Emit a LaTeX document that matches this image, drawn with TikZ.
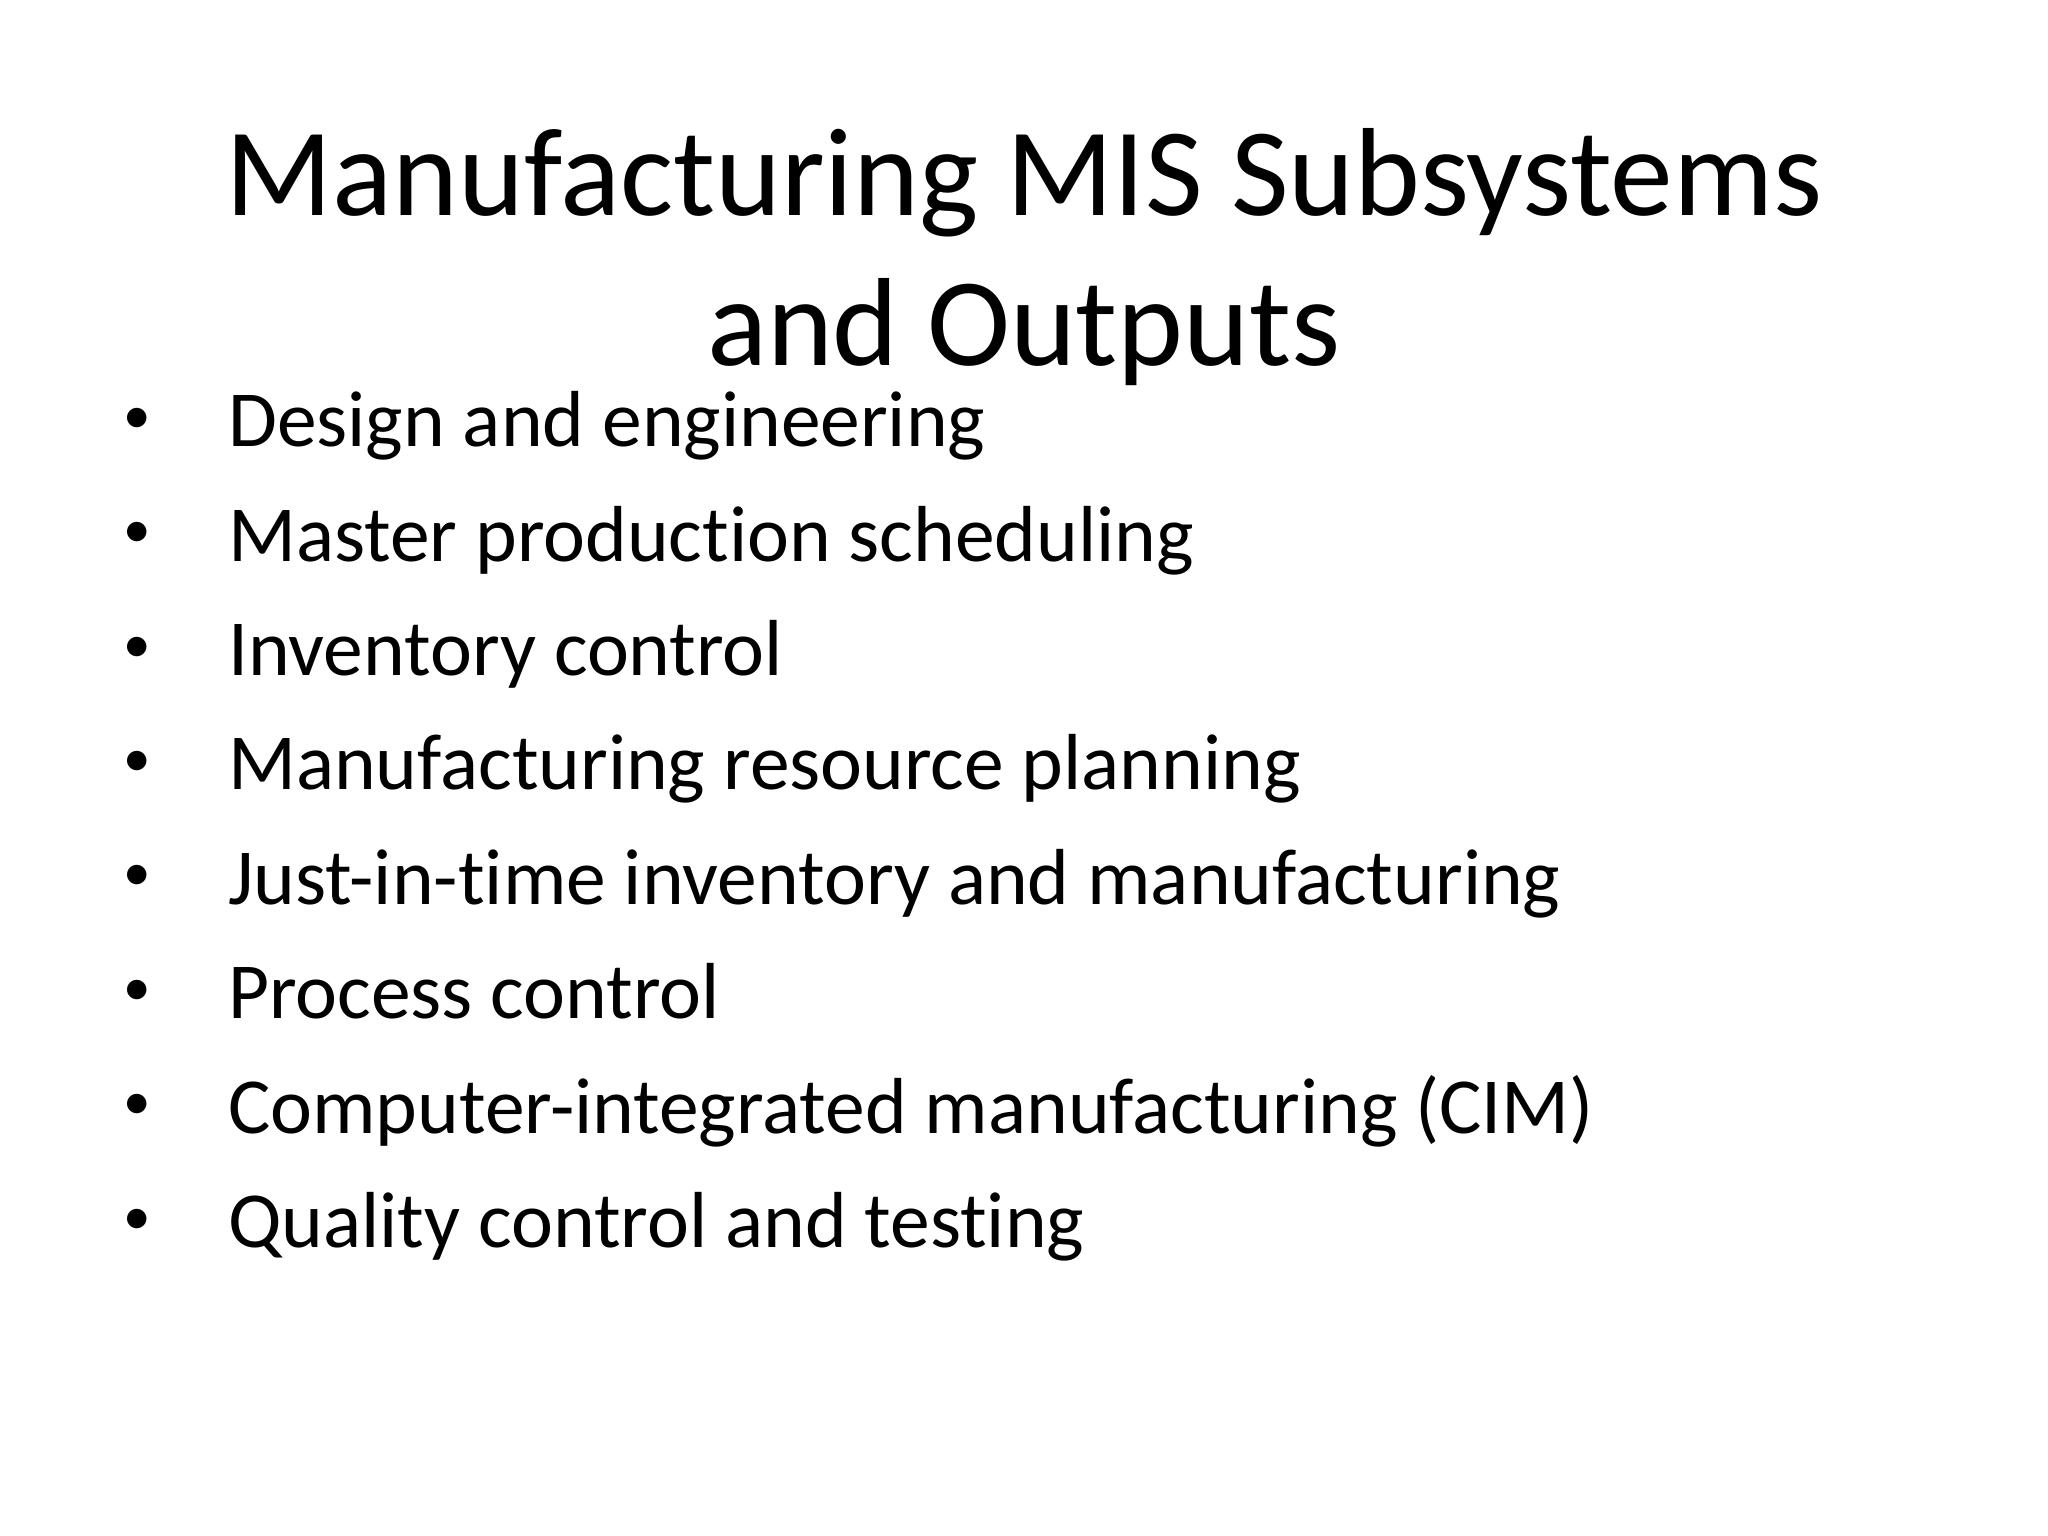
\documentclass[tikz,border=0pt]{standalone}
\usepackage{fontspec}
\setmainfont{Carlito}[Ligatures=NoCommon]
\begin{document}
\begin{tikzpicture}[x=0.01cm,y=-0.01cm,
  ttl/.style={anchor=base,font=\fontsize{27.3pt}{30pt}\selectfont},
  itm/.style={anchor=base west,font=\fontsize{17.3pt}{22pt}\selectfont,inner sep=0pt},
  bul/.style={anchor=center,font=\fontsize{12pt}{14pt}\selectfont,inner sep=0pt}]
\useasboundingbox (0,0) rectangle (1568,1176);
\node[ttl] (t1) at (784,165) {Manufacturing MIS Subsystems};
\node[ttl] (t2) at (784,280) {and Outputs};
\foreach \t [count=\i] in {Design and engineering, Master production scheduling, Inventory control, Manufacturing resource planning, Just-in-time inventory and manufacturing, Process control, Computer-integrated manufacturing (CIM), Quality control and testing}{
  \pgfmathsetmacro\yy{342+87.6*(\i-1)}
  \node[bul] (b\i) at (105,\yy-20) {•};
  \node[itm] (i\i) at (174,\yy) {\t};
}
\end{tikzpicture}
\end{document}
